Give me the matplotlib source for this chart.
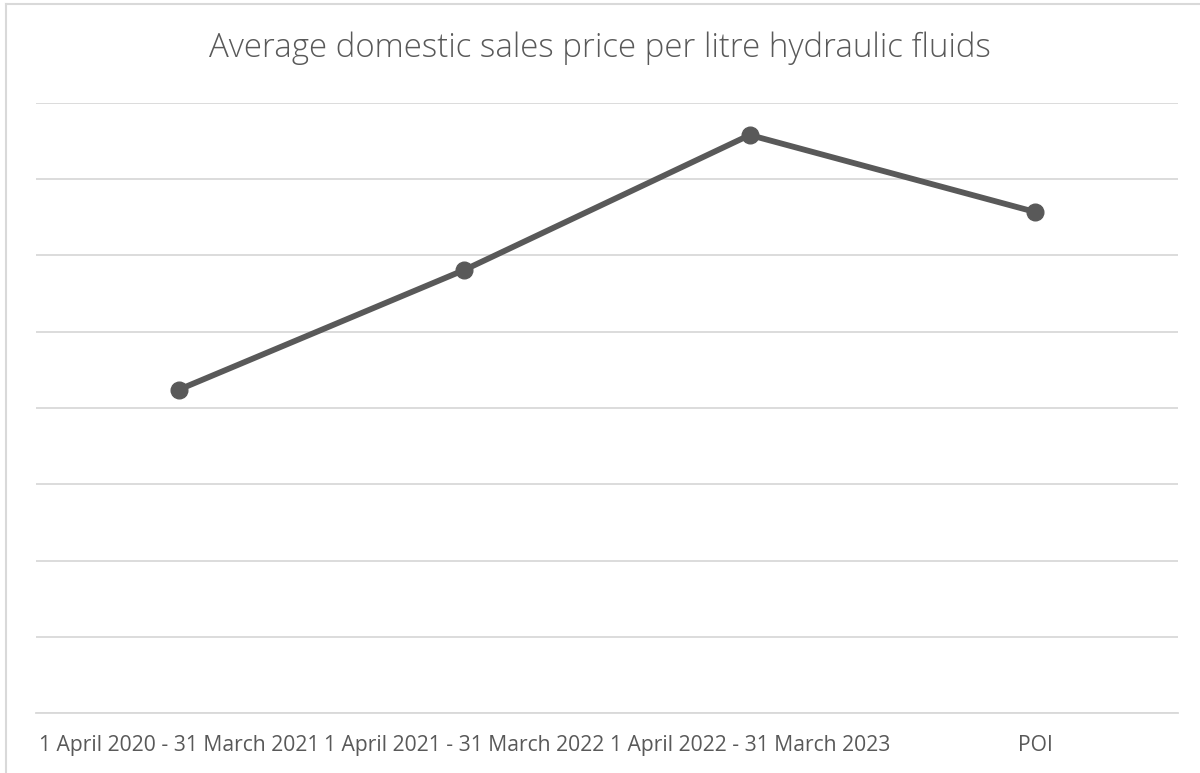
import matplotlib.pyplot as plt
from matplotlib.lines import Line2D

periods = [
    "1 April 2020 - 31 March 2021",
    "1 April 2021 - 31 March 2022",
    "1 April 2022 - 31 March 2023",
    "POI",
]
avg_price = [4.24, 5.81, 7.58, 6.57]

TEXT = "#595959"
GRID = "#d9d9d9"

plt.rcParams["font.family"] = ["Open Sans", "DejaVu Sans"]

fig = plt.figure(figsize=(12, 7.73), dpi=100)
ax = fig.add_axes([0.03, 0.0776, 0.9517, 0.7892])

# chart frame: only the top and left edges fall inside the canvas
fig.lines.append(Line2D([0.005, 1.0], [0.995, 0.995], transform=fig.transFigure,
                        color=GRID, linewidth=1.5))
fig.lines.append(Line2D([0.005, 0.005], [0.0, 0.995], transform=fig.transFigure,
                        color=GRID, linewidth=1.5))

x = range(len(periods))
ax.plot(x, avg_price, color=TEXT, linewidth=4.2, marker="o", markersize=12,
        solid_capstyle="round", zorder=3)

ax.set_xlim(-0.5, len(periods) - 0.5)
ax.set_ylim(0, 8)
ax.set_yticks(range(0, 9))
ax.set_yticklabels([])
ax.tick_params(axis="y", length=0)
ax.grid(axis="y", color=GRID, linewidth=1.3)
ax.set_axisbelow(True)

ax.set_xticks(list(x))
ax.set_xticklabels(periods, fontsize=15.2, color=TEXT)
ax.tick_params(axis="x", length=0, pad=16)

for side in ("top", "right", "left"):
    ax.spines[side].set_visible(False)
ax.spines["bottom"].set_color(GRID)
ax.spines["bottom"].set_linewidth(1.3)

fig.text(0.5, 0.938, "Average domestic sales price per litre hydraulic fluids",
         ha="center", va="center", fontsize=23.8, color=TEXT, fontweight="light")

fig.savefig("out.png", dpi=100)
